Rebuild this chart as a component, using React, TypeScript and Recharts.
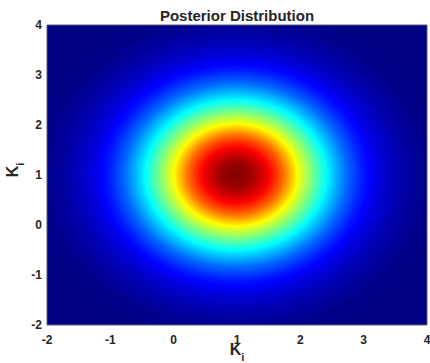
import { ComposedChart, XAxis, YAxis, ReferenceArea } from "recharts";

// axes
const xTicks = [-2, -1, 0, 1, 2, 3, 4];
const yTicks = [-2, -1, 0, 1, 2, 3, 4];

// posterior peak and radial profile (x direction)
const centerX = 0.98;
const centerY = 1.0;
const aspectY = 1.05;
const profileRadius = [0, 0.25, 0.5, 0.75, 1.0, 1.25, 1.5, 1.75, 2.0, 2.25, 2.5, 2.75, 3.0, 3.4];
const profileDensity = [1.0, 0.97, 0.89, 0.77, 0.61, 0.47, 0.34, 0.23, 0.15, 0.095, 0.055, 0.03, 0.012, 0];

const font = "'Liberation Sans', Arial, sans-serif";
const ink = "#262626";

// matlab jet colormap
const jet = (v: number) => {
  const c = (t: number) =>
    Math.round(255 * Math.max(0, Math.min(1, 1.5 - Math.abs(4 * v - t))));
  return `rgb(${c(3)},${c(2)},${c(1)})`;
};

const breaks = [0.875, 0.625, 0.375, 0.125];
const outer = profileRadius[profileRadius.length - 1];
const stops: { offset: number; color: string }[] = [];
profileRadius.forEach((r, i) => {
  stops.push({ offset: r / outer, color: jet(profileDensity[i]) });
  if (i < profileRadius.length - 1) {
    const v0 = profileDensity[i];
    const v1 = profileDensity[i + 1];
    const r1 = profileRadius[i + 1];
    breaks.forEach((b) => {
      if (b < v0 && b > v1) {
        const rb = r + ((v0 - b) / (v0 - v1)) * (r1 - r);
        stops.push({ offset: rb / outer, color: jet(b) });
      }
    });
  }
});

const Blob = (props: any) => {
  const { x, y, width, height, clipPath } = props;
  return (
    <ellipse
      cx={x + width / 2}
      cy={y + height / 2}
      rx={Math.abs(width) / 2}
      ry={Math.abs(height) / 2}
      fill="url(#posterior)"
      clipPath={clipPath}
    />
  );
};

const XLabel = (props: any) => {
  const { x, y, width } = props.viewBox;
  return (
    <text
      x={x + width / 2}
      y={y + 30}
      textAnchor="middle"
      fill={ink}
      fontFamily={font}
      fontWeight="bold"
      fontSize={16}
    >
      K
      <tspan fontSize={11} dy={6}>
        i
      </tspan>
    </text>
  );
};

const YLabel = (props: any) => {
  const { y, height } = props.viewBox;
  const cx = 18;
  const cy = y + height / 2 - 5;
  return (
    <text
      x={cx}
      y={cy}
      textAnchor="middle"
      transform={`rotate(-90, ${cx}, ${cy})`}
      fill={ink}
      fontFamily={font}
      fontWeight="bold"
      fontSize={16}
    >
      K
      <tspan fontSize={11} dy={6}>
        i
      </tspan>
    </text>
  );
};

const tickStyle = { fill: ink, fontSize: 12, fontWeight: "bold", fontFamily: font };

export default function App() {
  return (
    <div style={{ position: "relative", width: 430, height: 363, background: "#fff" }}>
      <style>{`body{margin:0}`}</style>
      <div
        style={{
          position: "absolute",
          top: 7.5,
          left: 237,
          transform: "translateX(-50%)",
          whiteSpace: "nowrap",
          fontFamily: font,
          fontWeight: "bold",
          fontSize: 15,
          lineHeight: "15px",
          color: ink,
        }}
      >
        Posterior Distribution
      </div>
      <ComposedChart
        width={430}
        height={363}
        margin={{ top: 25, right: 3, left: 0, bottom: 18 }}
      >
        <defs>
          <radialGradient id="posterior" cx="50%" cy="50%" r="50%">
            {stops.map((s, i) => (
              <stop key={i} offset={s.offset} stopColor={s.color} />
            ))}
          </radialGradient>
        </defs>
        <XAxis
          type="number"
          dataKey="x"
          domain={[-2, 4]}
          ticks={xTicks}
          interval={0}
          allowDataOverflow
          tickLine={false}
          axisLine={false}
          tickSize={6}
          tickMargin={4}
          height={20}
          tick={tickStyle}
          label={{ content: XLabel }}
        />
        <YAxis
          type="number"
          dataKey="y"
          domain={[-2, 4]}
          ticks={yTicks}
          interval={0}
          allowDataOverflow
          tickLine={false}
          axisLine={false}
          tickSize={3}
          tickMargin={2}
          width={47}
          tick={tickStyle}
          label={{ content: YLabel }}
        />
        <ReferenceArea
          x1={-2}
          x2={4}
          y1={-2}
          y2={4}
          fill={jet(0)}
          fillOpacity={1}
          stroke="none"
          ifOverflow="hidden"
        />
        <ReferenceArea
          x1={centerX - outer}
          x2={centerX + outer}
          y1={centerY - outer * aspectY}
          y2={centerY + outer * aspectY}
          ifOverflow="hidden"
          shape={<Blob />}
        />
        <ReferenceArea
          x1={-2}
          x2={4}
          y1={-2}
          y2={4}
          fill="none"
          stroke="#5c5c70"
          strokeWidth={1}
          ifOverflow="visible"
        />
      </ComposedChart>
    </div>
  );
}
